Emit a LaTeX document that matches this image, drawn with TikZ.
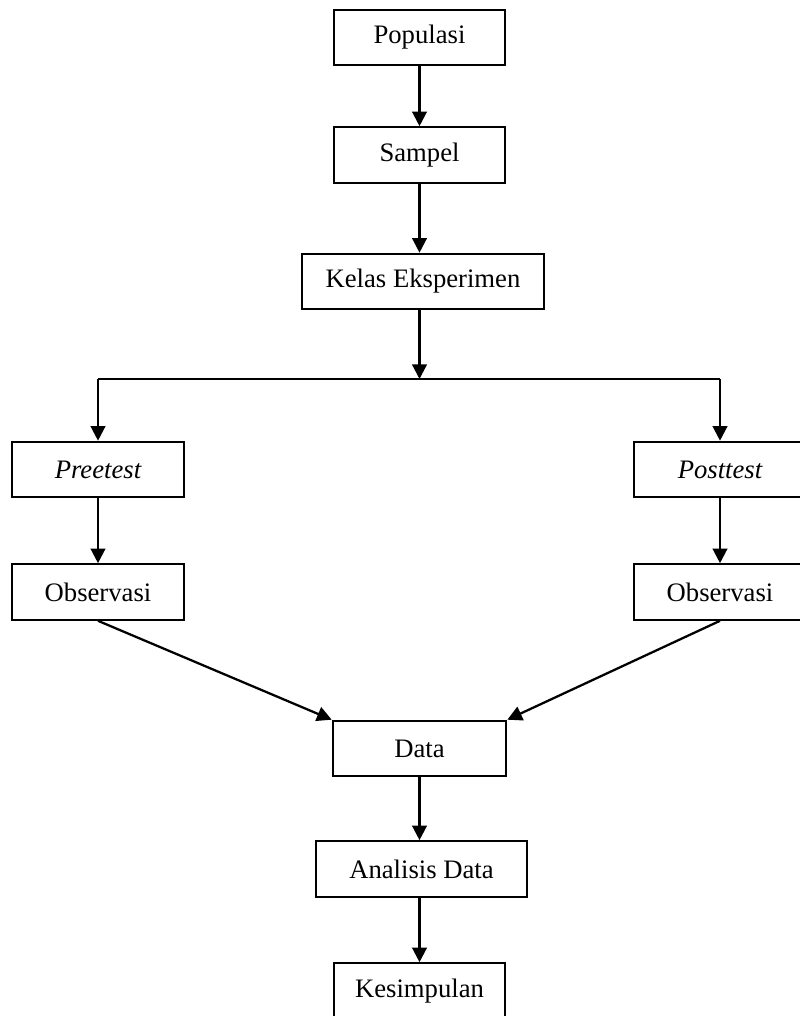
\documentclass[tikz,border=0pt]{standalone}
\usepackage{fontspec}
\setmainfont{Liberation Serif}
\usetikzlibrary{arrows.meta}
\begin{document}
\begin{tikzpicture}[x=0.75pt, y=-0.75pt,
    box/.style={draw, line width=1.7pt, minimum height=41.5pt, minimum width=128pt,
        inner sep=0pt, font=\fontsize{20}{24}\selectfont},
    arr/.style={line width=1.7pt, -{Triangle[length=11pt, width=11pt]}}]
    \useasboundingbox (0, 0) rectangle (799, 1016);
    \node[box] (pop) at (419.5, 37.5) {Populasi};
    \node[box] (smp) at (419.5, 155) {Sampel};
    \node[box, minimum width=181.5pt] (kls) at (423, 281.5) {Kelas Eksperimen};
    \node[box, minimum width=129pt] (pre) at (98, 469.5) {\itshape Preetest};
    \node[box, minimum width=129pt] (post) at (720, 469.5) {\itshape Posttest};
    \node[box, minimum width=129pt] (obs1) at (98, 592) {Observasi};
    \node[box, minimum width=129pt] (obs2) at (720, 592) {Observasi};
    \node[box, minimum width=130pt] (dat) at (419.5, 748.5) {Data};
    \node[box, minimum width=158pt] (ana) at (421.5, 869) {Analisis Data};
    \node[box] (kes) at (419.5, 991) {Kesimpulan};
    \coordinate (split) at (419.5, 379);
    \draw[arr] (pop) -- (smp);
    \draw[arr] (smp.south) -- (smp |- kls.north);
    \draw[arr] (split |- kls.south) -- (split);
    \draw[line width=1.1pt] (pre |- split) -- (post |- split);
    \draw[arr] (pre |- split) -- (pre);
    \draw[arr] (post |- split) -- (post);
    \draw[arr] (pre) -- (obs1);
    \draw[arr] (post) -- (obs2);
    \draw[arr] (obs1.south) -- (dat.north west);
    \draw[arr] (obs2.south) -- (dat.north east);
    \draw[arr] (dat.south) -- (dat |- ana.north);
    \draw[arr] (dat |- ana.south) -- (kes);
\end{tikzpicture}
\end{document}
